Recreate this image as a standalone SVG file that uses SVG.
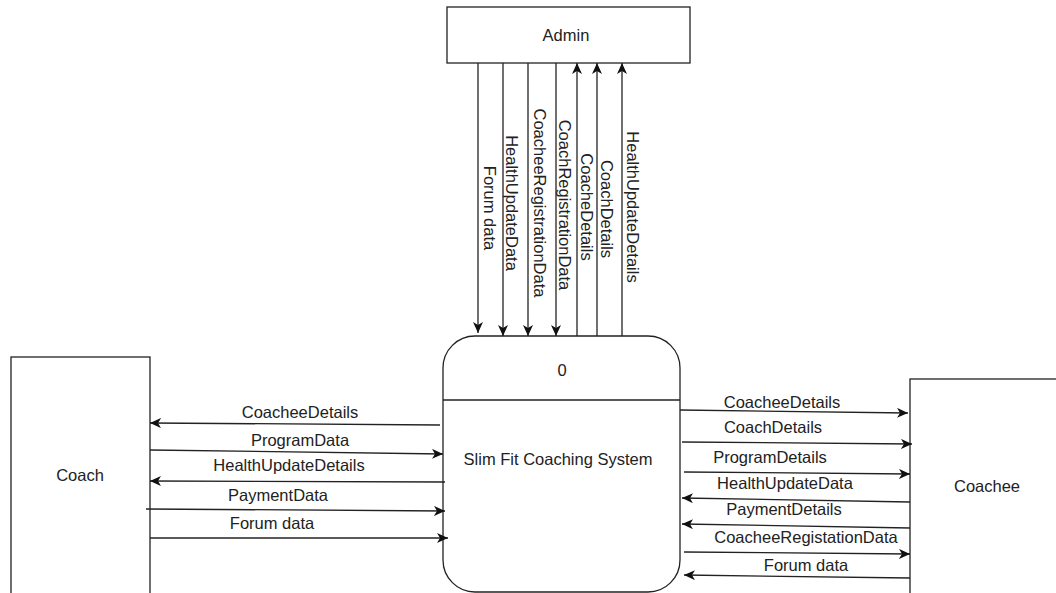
<svg xmlns="http://www.w3.org/2000/svg" width="1056" height="593" viewBox="0 0 1056 593">
<style>
.box{fill:#fff;stroke:#222;stroke-width:1.3}
.t{font-family:"Liberation Sans",Arial,sans-serif;font-size:16.5px;fill:#222;text-anchor:middle}
.v{dominant-baseline:central}
.c path{fill:none;stroke:#222;stroke-width:1.3;marker-end:url(#ah)}
</style>
<defs>
<marker id="ah" markerUnits="userSpaceOnUse" markerWidth="12" markerHeight="10" refX="11" refY="5" orient="auto">
<path d="M0,0 L11,5 L0,10 L3,5 z" fill="#111"/>
</marker>
</defs>
<rect width="1056" height="593" fill="#fff"/>
<g id="admin"><rect class="box" x="447" y="7" width="243" height="56"/><text class="t" x="566" y="41">Admin</text></g>
<g id="process"><rect class="box" x="443" y="336" width="237" height="256" rx="32" ry="32"/><line x1="443" y1="400" x2="680" y2="400" stroke="#222" stroke-width="1.3"/><text class="t" x="562" y="376">0</text><text class="t" x="558" y="465">Slim Fit Coaching System</text></g>
<g id="coach"><rect class="box" x="11" y="357" width="139" height="260"/><text class="t" x="80" y="481">Coach</text></g>
<g id="coachee"><rect class="box" x="910" y="379" width="160" height="240"/><text class="t" x="987" y="492">Coachee</text></g>
<g class="c" id="connectors">
<path d="M478,63 L478,333"/>
<path d="M503,63 L503,336"/>
<path d="M528,63 L528,336"/>
<path d="M556,63 L556,336"/>
<path d="M577,336 L577,63"/>
<path d="M597,336 L597,63"/>
<path d="M622,336 L622,63"/>
<path d="M440,425 L150,423"/>
<path d="M150,450 L443,454"/>
<path d="M445,482 L150,481"/>
<path d="M146,509 L445,511"/>
<path d="M150,538 L448,538"/>
<path d="M680,410 L908,413"/>
<path d="M682,442 L912,444"/>
<path d="M684,472 L910,474"/>
<path d="M910,502 L682,498"/>
<path d="M910,528 L682,524"/>
<path d="M684,552 L910,554"/>
<path d="M910,578 L684,575"/>
</g>
<g id="labels">
<text class="t v" transform="translate(490,208) rotate(90)">Forum data</text>
<text class="t v" transform="translate(512,203) rotate(90)">HealthUpdateData</text>
<text class="t v" transform="translate(540,203) rotate(90)">CoacheeRegistrationData</text>
<text class="t v" transform="translate(565,205) rotate(90)">CoachRegistrationData</text>
<text class="t v" transform="translate(587,207) rotate(90)">CoacheDetails</text>
<text class="t v" transform="translate(607,209) rotate(90)">CoachDetails</text>
<text class="t v" transform="translate(633,207) rotate(90)">HealthUpdateDetails</text>
<text class="t" x="300" y="418">CoacheeDetails</text>
<text class="t" x="300" y="446">ProgramData</text>
<text class="t" x="289" y="471">HealthUpdateDetails</text>
<text class="t" x="278" y="501">PaymentData</text>
<text class="t" x="272" y="529">Forum data</text>
<text class="t" x="782" y="408">CoacheeDetails</text>
<text class="t" x="773" y="433">CoachDetails</text>
<text class="t" x="770" y="463">ProgramDetails</text>
<text class="t" x="785" y="489">HealthUpdateData</text>
<text class="t" x="784" y="515">PaymentDetails</text>
<text class="t" x="806" y="543">CoacheeRegistationData</text>
<text class="t" x="806" y="571">Forum data</text>
</g>
</svg>
